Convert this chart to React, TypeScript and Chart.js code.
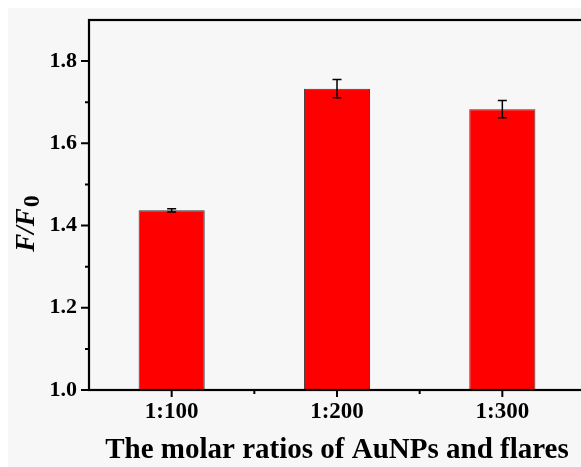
import React, { useEffect, useRef } from 'react';
import { Chart, registerables } from 'chart.js';

Chart.register(...registerables);

const categories = ['1:100', '1:200', '1:300'];
const values = [1.437, 1.733, 1.683];
const errors = [0.004, 0.022, 0.021];
const yTicks = [1.0, 1.2, 1.4, 1.6, 1.8];
const yMinorTicks = [1.1, 1.3, 1.5, 1.7];
const yMin = 1.0;
const yMax = 1.9;

const FONT = "'Liberation Serif', 'Times New Roman', serif";

export default function App() {
  const ref = useRef<HTMLCanvasElement>(null);

  useEffect(() => {
    const canvas = ref.current!;
    const decor = {
      id: 'decor',
      beforeDraw(chart: any) {
        const ctx = chart.ctx;
        ctx.save();
        ctx.fillStyle = '#ffffff';
        ctx.fillRect(0, 0, chart.width, chart.height);
        ctx.fillStyle = '#f7f7f7';
        ctx.fillRect(8, 8, chart.width - 8, chart.height - 8);
        ctx.restore();
      },
      afterDatasetsDraw(chart: any) {
        const ctx = chart.ctx;
        const meta = chart.getDatasetMeta(0);
        const ys = chart.scales.y;
        ctx.save();
        ctx.strokeStyle = '#000';
        ctx.lineWidth = 1.5;
        meta.data.forEach((bar: any, i: number) => {
          const x = bar.x;
          const yTop = ys.getPixelForValue(values[i] + errors[i]);
          const yBot = ys.getPixelForValue(values[i] - errors[i]);
          ctx.beginPath();
          ctx.moveTo(x, yTop);
          ctx.lineTo(x, yBot);
          ctx.moveTo(x - 4.5, yTop);
          ctx.lineTo(x + 4.5, yTop);
          ctx.moveTo(x - 4.5, yBot);
          ctx.lineTo(x + 4.5, yBot);
          ctx.stroke();
        });
        ctx.restore();
      },
      afterDraw(chart: any) {
        const ctx = chart.ctx;
        const { left, right, top, bottom } = chart.chartArea;
        const xs = chart.scales.x;
        const ys = chart.scales.y;
        ctx.save();
        ctx.strokeStyle = '#000';
        ctx.lineWidth = 2.2;
        ctx.strokeRect(left, top, right - left, bottom - top);
        ctx.lineWidth = 2;
        ctx.beginPath();
        yTicks.forEach((v) => {
          const y = ys.getPixelForValue(v);
          ctx.moveTo(left, y);
          ctx.lineTo(left - 8, y);
        });
        yMinorTicks.forEach((v) => {
          const y = ys.getPixelForValue(v);
          ctx.moveTo(left, y);
          ctx.lineTo(left - 4, y);
        });
        categories.forEach((c, i) => {
          const x = xs.getPixelForValue(i);
          ctx.moveTo(x, bottom);
          ctx.lineTo(x, bottom + 7);
          if (i < categories.length - 1) {
            const xm = (x + xs.getPixelForValue(i + 1)) / 2;
            ctx.moveTo(xm, bottom);
            ctx.lineTo(xm, bottom + 4);
          }
        });
        ctx.stroke();

        // y axis title: F/F0 with subscript
        ctx.translate(34, 224);
        ctx.rotate(-Math.PI / 2);
        ctx.fillStyle = '#000';
        ctx.textBaseline = 'alphabetic';
        ctx.textAlign = 'left';
        const mainFont = `italic bold 27px ${FONT}`;
        const subFont = `bold 24px ${FONT}`;
        ctx.font = mainFont;
        const w1 = ctx.measureText('F/F').width;
        ctx.font = subFont;
        const w2 = ctx.measureText('0').width;
        const start = -(w1 + w2) / 2;
        ctx.font = mainFont;
        ctx.fillText('F/F', start, 0);
        ctx.font = subFont;
        ctx.fillText('0', start + w1 + 1, 5);
        ctx.restore();
      },
    };

    const chart = new Chart(canvas, {
      type: 'bar',
      data: {
        labels: categories,
        datasets: [
          {
            data: values,
            backgroundColor: '#ff0000',
            borderColor: '#3a3a3a',
            borderWidth: 1,
            borderSkipped: false,
            barPercentage: 0.4,
            categoryPercentage: 1.0,
          },
        ],
      },
      options: {
        responsive: false,
        animation: false,
        devicePixelRatio: 1,
        layout: { padding: { left: 0, top: 20, right: 15, bottom: 0 } },
        plugins: {
          legend: { display: false },
          tooltip: { enabled: false },
        },
        scales: {
          x: {
            type: 'category',
            offset: true,
            grid: { display: false, drawTicks: false },
            border: { display: false },
            ticks: {
              color: '#000',
              padding: 8,
              font: { family: FONT, size: 23, weight: 'bold' },
            },
            title: {
              display: true,
              text: 'The molar ratios of AuNPs and flares',
              color: '#000',
              font: { family: FONT, size: 29, weight: 'bold', lineHeight: 1 },
              padding: { top: 0, bottom: 1.5 },
            },
            afterFit: (s: any) => {
              s.height = 77;
              s.paddingLeft = 0;
              s.paddingRight = 0;
            },
          },
          y: {
            min: yMin,
            max: yMax,
            grid: { display: false, drawTicks: false },
            border: { display: false },
            afterBuildTicks: (s: any) => {
              s.ticks = yTicks.map((v) => ({ value: v }));
            },
            ticks: {
              color: '#000',
              padding: 12,
              font: { family: FONT, size: 22, weight: 'bold' },
              callback: (v: any) => Number(v).toFixed(1),
            },
            afterFit: (s: any) => {
              s.width = 89;
              s.paddingTop = 0;
              s.paddingBottom = 0;
            },
          },
        },
      },
      plugins: [decor],
    });
    return () => chart.destroy();
  }, []);

  return (
    <div
      style={{
        position: 'fixed',
        left: 0,
        top: 0,
        width: 581,
        height: 467,
        overflow: 'hidden',
        background: '#fff',
      }}
    >
      <canvas
        ref={ref}
        width={600}
        height={467}
        style={{ display: 'block', width: 600, height: 467 }}
      />
    </div>
  );
}
